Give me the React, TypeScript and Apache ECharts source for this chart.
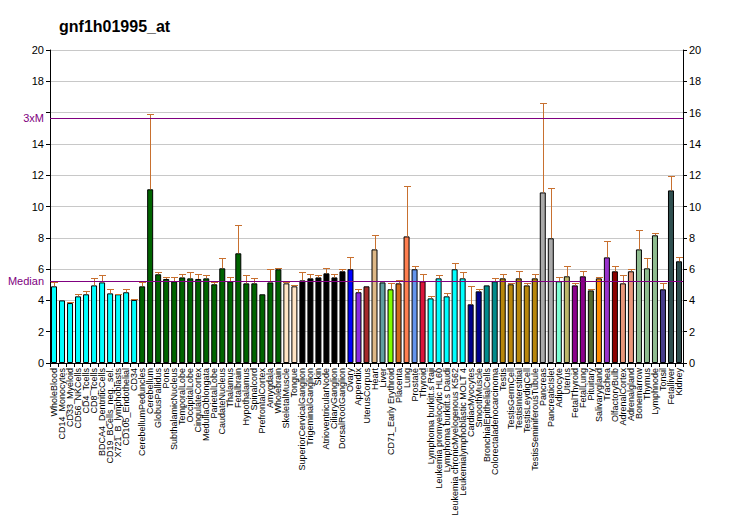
import React, { useEffect, useRef } from "react";
import * as echarts from "echarts";

const titleText = "gnf1h01995_at";

const categories = [
  "WholeBlood", "CD14_Monocytes", "CD33_Myeloid", "CD56_NKCells", "CD4_Tcells", "CD8_Tcells",
  "BDCA4_DentriticCells", "CD19_BCells_neg._sel.", "X721_B_lymphoblasts", "CD105_Endothelial", "CD34",
  "CerebellumPeduncles", "Cerebellum", "GlobusPallidus", "Pons", "SubthalamicNucleus", "TemporalLobe",
  "OccipitalLobe", "CingulateCortex", "MedullaOblongata", "ParietalLobe", "CaudateNucleus", "Thalamus",
  "Fetalbrain", "Hypothalamus", "Spinalcord", "PrefrontalCortex", "Amygdala", "Wholebrain",
  "SkeletalMuscle", "Tongue", "SuperiorCervicalGanglion", "TrigeminalGanglion", "Skin",
  "AtrioventricularNode", "CiliaryGanglion", "DorsalRootGanglion", "Ovary", "Appendix", "UterusCorpus",
  "Heart", "Liver", "CD71_Early Erythroid", "Placenta", "Lung", "Prostate", "Thyroid",
  "Lymphoma burkitt.s Raji", "Leukemia promyelocytic HL60", "Lymphoma burkitt.s Daudi",
  "Leukemia chronicMyelogenous K562", "Leukemialymphoblastic MOLT 4", "CardiacMyocytes", "SmoothMuscle",
  "BronchialEpithelialCells", "Colorectaladenocarcinoma", "Testis", "TestisGermCell", "TestisInterstitial",
  "TestisLeydigCell", "TestisSeminiferousTubule", "Pancreas", "PancreaticIslet", "Adipocyte", "Uterus",
  "FetalThyroid", "FetalLung", "Pituitary", "Salivarygland", "Trachea", "OlfactoryBulb", "AdrenalCortex",
  "Adrenalgland", "Bonemarrow", "Thymus", "Lymphnode", "Tonsil", "Fetalliver", "Kidney",
];

const values = [
  4.90, 4.00, 3.83, 4.26, 4.39, 4.96, 5.15, 4.45, 4.39, 4.52, 4.03,
  4.90, 11.10, 5.67, 5.37, 5.22, 5.47, 5.41, 5.37, 5.41, 5.03, 6.05, 5.22, 7.01, 5.09, 5.09, 4.39, 5.15, 5.99,
  5.09, 4.90, 5.28, 5.41, 5.47, 5.73, 5.47, 5.86, 5.99, 4.52, 4.90, 7.26, 5.15, 4.71, 5.09, 8.09, 5.99, 5.22,
  4.13, 5.41, 4.26, 5.99, 5.41, 3.75, 4.58, 4.96, 5.22, 5.41, 5.03, 5.41, 4.96, 5.41, 10.90, 7.97, 5.22, 5.54,
  4.96, 5.54, 4.64, 5.41, 6.75, 5.86, 5.09, 5.86, 7.26, 6.05, 8.16, 4.71, 11.03, 6.50,
];

const errorTops = [
  5.15, 4.00, 3.87, 4.39, 4.58, 5.45, 5.60, 4.71, 4.43, 4.71, 4.07,
  5.15, 15.90, 5.79, 5.47, 5.47, 5.67, 5.79, 5.67, 5.60, 5.15, 6.69, 5.47, 8.80, 5.60, 5.41, 4.39, 5.99, 6.05,
  5.15, 4.96, 5.79, 5.67, 5.60, 6.05, 5.67, 5.99, 6.75, 4.71, 4.90, 8.16, 5.15, 5.09, 5.28, 11.29, 6.18, 5.67,
  4.26, 5.60, 4.45, 6.37, 5.79, 4.90, 4.71, 4.96, 5.41, 5.67, 5.09, 5.86, 5.09, 5.67, 16.60, 11.16, 5.47, 6.18,
  5.09, 5.86, 4.71, 5.47, 7.77, 6.18, 5.60, 5.99, 8.48, 6.69, 8.30, 5.09, 11.95, 6.75,
];

const barColors = [
  "#00FFFF", "#00FFFF", "#00FFFF", "#00FFFF", "#00FFFF", "#00FFFF", "#00FFFF", "#00FFFF", "#00FFFF", "#00FFFF", "#00FFFF",
  "#006400", "#006400", "#006400", "#006400", "#006400", "#006400", "#006400", "#006400", "#006400",
  "#006400", "#006400", "#006400", "#006400", "#006400", "#006400", "#006400", "#006400", "#006400",
  "#FFE4C4", "#FFE4C4",
  "#000000", "#000000", "#000000", "#000000", "#000000", "#000000",
  "#0000FF", "#8A2BE2", "#A52A2A", "#DEB887", "#5F9EA0", "#7FFF00", "#D2691E", "#FF7F50", "#6495ED", "#DC143C",
  "#00FFFF", "#00FFFF", "#00FFFF", "#00FFFF", "#00FFFF",
  "#00008B", "#00008B", "#008B8B", "#008B8B",
  "#B8860B", "#B8860B", "#B8860B", "#B8860B", "#B8860B",
  "#A9A9A9", "#A9A9A9", "#7FFFD4", "#BDB76B", "#8B008B", "#8B008B", "#556B2F", "#FF8C00", "#9932CC",
  "#8B0000", "#E9967A", "#E9967A", "#8FBC8F", "#8FBC8F", "#8FBC8F", "#483D8B", "#2F4F4F", "#2F4F4F",
];

const yTicks = [0, 2, 4, 6, 8, 10, 12, 14, 16, 18, 20];
const medianValue = 5.22;
const tripleMedianValue = 15.67;

const FONT = "'Liberation Sans', Arial, sans-serif";
const ERR_COLOR = "#C8702F";
const REF_COLOR = "#800080";

export default function App() {
  const ref = useRef<HTMLDivElement>(null);

  useEffect(() => {
    if (!ref.current) return;
    const chart = echarts.init(ref.current, null, { renderer: "svg" });
    const yMin = yTicks[0];
    const yMax = yTicks[yTicks.length - 1];
    const yStep = yTicks[1] - yTicks[0];
    const axisCommon = {
      type: "value" as const,
      min: yMin,
      max: yMax,
      interval: yStep,
      axisLine: { show: true, lineStyle: { color: "#000", width: 1 } },
      axisTick: { show: true, length: 4, lineStyle: { color: "#000" } },
    };
    chart.setOption({
      animation: false,
      backgroundColor: "#fff",
      title: {
        text: titleText,
        left: 54,
        top: 13,
        textStyle: { fontSize: 16, fontWeight: "bold", fontFamily: FONT, color: "#000" },
      },
      grid: { left: 50, right: 49, top: 50, height: 313, containLabel: false, outerBoundsMode: "none" },
      xAxis: {
        type: "category",
        data: categories,
        boundaryGap: true,
        axisLine: { show: true, lineStyle: { color: "#000", width: 1 } },
        axisTick: { show: true, length: 4, alignWithLabel: false, interval: 0, lineStyle: { color: "#000" } },
        axisLabel: {
          rotate: 90,
          interval: 0,
          fontSize: 9,
          fontFamily: FONT,
          color: "#000",
          margin: 5,
        },
      },
      yAxis: [
        {
          ...axisCommon,
          position: "left",
          splitLine: { show: true, lineStyle: { color: "#C8C8C8", width: 1 } },
          axisLabel: {
            fontSize: 11,
            fontFamily: FONT,
            color: "#000",
            margin: 6,
            formatter: (v: number) => (v === 16 ? "" : String(v)),
          },
        },
        {
          ...axisCommon,
          position: "right",
          splitLine: { show: false },
          axisLabel: { fontSize: 11, fontFamily: FONT, color: "#000", margin: 6 },
        },
      ],
      series: [
        {
          type: "bar",
          yAxisIndex: 0,
          barWidth: 6,
          data: values.map((v, i) => ({
            value: v,
            itemStyle: { color: barColors[i], borderColor: "#000", borderWidth: 1 },
          })),
          z: 2,
        },
        {
          type: "custom",
          yAxisIndex: 0,
          z: 3,
          itemStyle: { color: ERR_COLOR },
          data: values.map((v, i) => [i, v, errorTops[i]]),
          encode: { x: 0, y: [1, 2] },
          renderItem: (params: any, api: any) => {
            const idx = api.value(0);
            const lo = api.coord([idx, api.value(1)]);
            const hi = api.coord([idx, api.value(2)]);
            if (lo[1] - hi[1] < 0.5) return null;
            const x = Math.round(lo[0]);
            const top = Math.round(hi[1]);
            const style = { fill: ERR_COLOR, stroke: null };
            return {
              type: "group",
              children: [
                { type: "rect", shape: { x: x, y: top, width: 1, height: lo[1] - top }, style },
                { type: "rect", shape: { x: x - 3, y: top, width: 7, height: 1 }, style },
              ],
            };
          },
        },
        {
          type: "line",
          yAxisIndex: 0,
          data: [],
          z: 6,
          markLine: {
            silent: true,
            symbol: "none",
            z: 6,
            lineStyle: { color: REF_COLOR, type: "solid", width: 1, opacity: 1 },
            label: { position: "start", color: REF_COLOR, fontSize: 11, fontFamily: FONT, distance: 6 },
            emphasis: { disabled: true },
            data: [
              { yAxis: medianValue, label: { formatter: "Median" }, lineStyle: { color: REF_COLOR } },
              { yAxis: tripleMedianValue, label: { formatter: "3xM" }, lineStyle: { color: REF_COLOR } },
            ],
          },
        },
      ],
    });
    return () => chart.dispose();
  }, []);

  return (
    <div
      ref={ref}
      style={{ position: "absolute", left: 0, top: 0, width: 732, height: 530, background: "#fff" }}
    />
  );
}
